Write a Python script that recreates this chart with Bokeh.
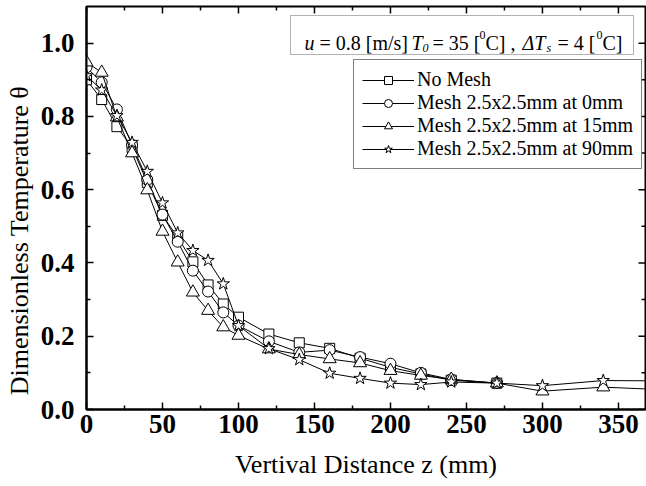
from bokeh.plotting import figure
from bokeh.models import (Range1d, LinearAxis, FixedTicker, Label, BoxAnnotation,
                          Legend, LegendItem, ColumnDataSource)
from bokeh.embed import file_html
from bokeh.resources import INLINE

# ---------------- data ----------------
z_a = [0, 10, 20, 30, 40, 50, 60, 70, 80, 90, 100, 120, 140, 160, 180, 200, 220, 240, 270]
no_mesh = [0.900, 0.846, 0.772, 0.715, 0.620, 0.530, 0.470, 0.403, 0.340, 0.288, 0.252,
           0.206, 0.182, 0.167, 0.140, 0.115, 0.097, 0.080, 0.072]
mesh_0 = [0.934, 0.893, 0.819, 0.722, 0.627, 0.532, 0.458, 0.379, 0.322, 0.265, 0.229,
          0.186, 0.156, 0.162, 0.143, 0.125, 0.100, 0.082, 0.072]
z_b = [0, 10, 20, 30, 40, 50, 60, 70, 80, 90, 100, 120, 140, 160, 180, 200, 220, 240, 270, 300, 340, 380]
mesh_15 = [0.948, 0.920, 0.798, 0.700, 0.599, 0.486, 0.402, 0.320, 0.270, 0.225, 0.202,
           0.165, 0.150, 0.138, 0.127, 0.106, 0.093, 0.082, 0.072, 0.050, 0.061, 0.054]
mesh_90 = [0.911, 0.872, 0.802, 0.729, 0.650, 0.564, 0.482, 0.434, 0.407, 0.343, 0.229,
           0.166, 0.136, 0.099, 0.085, 0.072, 0.068, 0.075, 0.072, 0.065, 0.079, 0.078]

series_labels = ["No Mesh", "Mesh 2.5x2.5mm at 0mm", "Mesh 2.5x2.5mm at 15mm", "Mesh 2.5x2.5mm at 90mm"]
x_major = [0, 50, 100, 150, 200, 250, 300, 350]
x_minor = [25, 75, 125, 175, 225, 275, 325]
y_major = [0.0, 0.2, 0.4, 0.6, 0.8, 1.0]
y_minor = [0.1, 0.3, 0.5, 0.7, 0.9]
y_tick_text = {0.0: "0.0", 0.2: "0.2", 0.4: "0.4", 0.6: "0.6", 0.8: "0.8", 1.0: "1.0"}
x_title = "Vertival Distance z (mm)"
y_title = "Dimensionless Temperature \u03b8"

# ---------------- layout ----------------
W, H = 646, 486
FL, FR, FT, FB = 86, 645, 6, 409
X_END, Y_END = 367.8, 1.1
SERIF = "Liberation Serif"
KX = X_END / (FR - FL)   # data units per pixel
KY = Y_END / (FB - FT)


def dx(px):
    return (px - FL) * KX


def dy(py):
    return (FB - py) * KY


p = figure(width=W, height=H, output_backend="svg", toolbar_location=None,
           x_range=Range1d(0, X_END), y_range=Range1d(0, Y_END),
           min_border_left=FL, min_border_right=W - FR, min_border_top=FT,
           min_border_bottom=H - FB, x_axis_location=None, y_axis_location=None)
p.xgrid.visible = False
p.ygrid.visible = False
p.outline_line_color = "black"
p.outline_line_width = 2
p.background_fill_color = "white"
p.border_fill_color = "white"
p.extra_x_ranges = {"legend_only": Range1d(-2000, -1000)}


def style_axis(ax, ticks, minor):
    ax.ticker = FixedTicker(ticks=ticks, minor_ticks=minor)
    ax.axis_line_color = "black"
    ax.axis_line_width = 2
    ax.major_tick_in = 7
    ax.major_tick_out = 0
    ax.minor_tick_in = 4
    ax.minor_tick_out = 0
    ax.major_tick_line_width = 1.5
    ax.minor_tick_line_width = 1.5
    ax.major_tick_line_color = "black"
    ax.minor_tick_line_color = "black"
    ax.major_label_text_font = SERIF
    ax.major_label_text_font_style = "bold"
    ax.major_label_text_font_size = "27px"
    ax.major_label_text_color = "black"
    ax.axis_label_text_font = SERIF
    ax.axis_label_text_font_style = "normal"
    ax.axis_label_text_font_size = "26px"
    ax.axis_label_text_color = "black"


xb = LinearAxis(axis_label=x_title)
style_axis(xb, x_major, x_minor)
xb.major_label_standoff = 5
xb.axis_label_standoff = 14
p.add_layout(xb, "below")

# trailing no-break spaces move the centred title down along the axis
yl = LinearAxis(axis_label=y_title + "\u00a0" * 10)
style_axis(yl, y_major, y_minor)
yl.major_label_overrides = {k: v for k, v in y_tick_text.items()}
yl.major_label_standoff = 12
yl.axis_label_standoff = 4
p.add_layout(yl, "left")

# mirrored inward ticks on top and right edges
nM, nm = len(x_major), len(x_minor)
p.segment(x0=x_major, y0=[Y_END] * nM, x1=x_major, y1=[Y_END - 7 * KY] * nM,
          line_color="black", line_width=1.5)
p.segment(x0=x_minor, y0=[Y_END] * nm, x1=x_minor, y1=[Y_END - 4 * KY] * nm,
          line_color="black", line_width=1.5)
yM, ym = len(y_major), len(y_minor)
p.segment(x0=[X_END] * yM, y0=y_major, x1=[X_END - 7 * KX] * yM, y1=y_major,
          line_color="black", line_width=1.5)
p.segment(x0=[X_END] * ym, y0=y_minor, x1=[X_END - 4 * KX] * ym, y1=y_minor,
          line_color="black", line_width=1.5)

# ---------------- series ----------------
specs = [
    (z_a, no_mesh, "square", 10),
    (z_a, mesh_0, "circle", 11),
    (z_b, mesh_15, "triangle", 13),
    (z_b, mesh_90, "star", 13),
]
items = []
for (zz, th, mk, sz), lab in zip(specs, series_labels):
    src = ColumnDataSource(data=dict(z=zz, t=th))
    lr = p.line("z", "t", source=src, line_color="black", line_width=1)
    p.scatter("z", "t", source=src, marker=mk, size=sz, fill_color="white",
              line_color="black", line_width=1)
    # smaller marker used only for the legend sample (mapped off-frame)
    sr = p.scatter("z", "t", source=src, marker=mk, size=8, fill_color="white",
                   line_color="black", line_width=1, x_range_name="legend_only")
    items.append(LegendItem(label=lab, renderers=[lr, sr]))

legend = Legend(items=items, location=(353 - FL, FB - 169))
legend.label_text_font = SERIF
legend.label_text_font_size = "20px"
legend.label_text_color = "black"
legend.glyph_width = 52
legend.glyph_height = 20
legend.label_height = 20
legend.label_standoff = 3
legend.spacing = 0
legend.padding = 8
legend.margin = 0
legend.border_line_color = "black"
legend.border_line_width = 1
legend.background_fill_color = "white"
legend.background_fill_alpha = 1
p.add_layout(legend)

# ---------------- annotation box ----------------
box = BoxAnnotation(left=dx(290), right=dx(633), top=dy(15), bottom=dy(54),
                    fill_color="white", fill_alpha=1, line_color="black", line_width=1)
p.add_layout(box)

base = 42
pieces = [
    ("u", 304, base, 20, "italic"),
    ("= 0.8 [m/s]", 319, base, 20, "normal"),
    ("T", 411, base, 20, "italic"),
    ("0", 422, base + 5, 12, "italic"),
    ("= 35 [", 432, base, 20, "normal"),
    ("0", 479, base - 8, 12, "normal"),
    ("C] ,", 485, base, 20, "normal"),
    ("\u0394T", 522, base, 20, "italic"),
    ("s", 546, base + 5, 12, "italic"),
    ("= 4 [", 557, base, 20, "normal"),
    ("0", 596, base - 8, 12, "normal"),
    ("C]", 602, base, 20, "normal"),
]
for txt, px, py, fs, st in pieces:
    p.add_layout(Label(x=dx(px), y=dy(py), text=txt, text_font=SERIF,
                       text_font_size=f"{fs}px", text_font_style=st,
                       text_color="black", text_align="left",
                       text_baseline="alphabetic"))

with open("out.html", "w") as f:
    f.write(file_html(p, INLINE))
